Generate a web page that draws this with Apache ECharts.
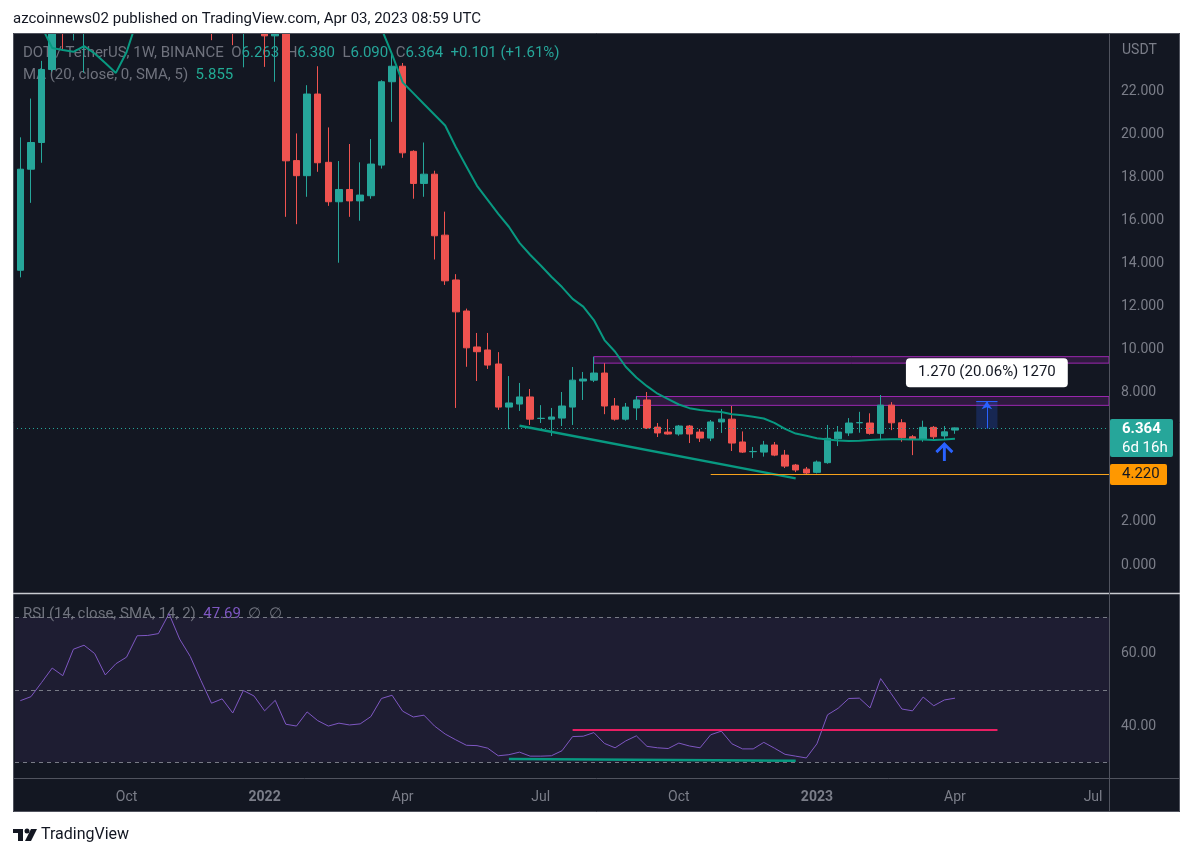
<!DOCTYPE html>
<html><head><meta charset="utf-8">
<script src="https://cdn.jsdelivr.net/npm/echarts@6/dist/echarts.min.js"></script>
<style>html,body{margin:0;padding:0;background:#fff;}#c{width:1192px;height:857px;}</style>
</head><body><div id="c"></div>
<script>
const FONT = 'Roboto, "Liberation Sans", sans-serif';

// weekly bars (Monday dates), starting 2021-07-26, including empty future weeks
const firstWeek = '2021-07-26';
const weekCount = 103;
const categories = [];
(function () {
  const t0 = Date.parse(firstWeek + 'T00:00:00Z');
  for (let i = 0; i < weekCount; i++) categories.push(new Date(t0 + i * 7 * 864e5).toISOString().slice(0, 10));
})();

const tickDates  = ['2021-10-04','2022-01-03','2022-04-04','2022-07-04','2022-10-03','2023-01-02','2023-04-03','2023-07-03'];
const tickLabels = ['Oct','2022','Apr','Jul','Oct','2023','Apr','Jul'];

const opens = [13.68,18.37,19.61,23.0,28.5,25.6,32.5,35.0,34.0,29.5,31.5,33.7,42.5,42.5,43.5,50.0,45.5,37.0,36.5,28.7,
  27.8,25.2,29.5,26.5,24.56,26.5,18.77,18.07,21.86,18.69,16.86,17.43,16.9,17.14,18.56,22.43,23.15,19.2,17.71,18.14,
  15.31,13.23,11.79,10.12,9.98,9.33,7.33,7.47,7.8,6.8,6.77,6.82,7.33,8.54,8.58,8.91,7.38,6.77,7.29,7.66,
  6.4,6.17,6.08,6.45,6.17,5.89,6.64,6.77,5.71,5.26,5.24,5.57,5.1,4.64,4.45,4.3,4.75,5.86,6.13,6.6,
  6.59,6.11,7.42,6.6,5.95,5.83,6.39,5.99,6.263];
const highs = [19.85,21.65,23.4,29.5,30.5,36.0,38.8,38.0,35.5,33.0,36.0,43.5,46.5,45.0,55.0,54.0,46.5,43.0,38.8,30.5,
  29.0,31.0,31.0,28.0,27.8,27.5,20.03,22.27,23.15,20.31,18.75,19.54,18.69,19.77,22.5,23.8,23.3,19.25,19.61,18.3,
  16.4,13.5,11.9,10.77,10.77,9.88,8.77,8.45,8.17,7.42,7.29,8.03,9.19,8.96,9.67,9.37,7.75,7.52,7.84,8.03,
  6.59,6.77,6.5,6.5,6.31,6.73,7.24,7.38,6.2,5.48,5.76,5.71,5.34,4.69,4.55,4.85,6.5,6.45,6.82,7.11,
  7.04,7.89,7.56,6.77,6.03,6.7,6.45,6.45,6.38];
const lows = [13.35,16.81,18.67,22.9,23.9,24.35,22.85,31.5,26.5,27.5,30.5,33.0,40.0,37.5,42.0,44.5,35.6,34.0,24.36,25.3,
  24.13,23.1,25.0,23.12,22.43,16.16,15.82,17.09,18.25,16.67,14.03,16.16,15.98,17.0,18.4,20.57,18.9,17.0,17.09,14.18,
  13.0,7.29,9.2,8.54,9.1,7.2,6.3,7.15,6.5,6.59,5.99,6.45,6.5,7.66,8.49,7.0,6.7,6.7,6.73,6.31,
  5.94,6.05,6.0,5.66,5.71,5.75,6.13,5.29,5.2,4.97,5.03,5.05,4.5,4.31,4.22,4.25,4.7,5.52,5.99,6.14,
  6.05,5.8,6.26,5.72,5.1,5.72,5.85,5.8,6.09];
const closes = [18.37,19.61,23.0,28.5,25.6,32.5,35.0,34.0,29.5,31.5,33.7,42.5,42.5,43.5,50.0,45.5,37.0,36.5,28.7,27.8,
  25.2,29.5,26.5,24.56,26.5,18.76,18.07,21.86,18.67,16.86,17.43,16.9,17.17,18.61,22.43,23.15,19.13,17.71,18.14,15.28,
  13.19,11.75,10.08,9.9,9.28,7.33,7.52,7.8,6.77,6.81,6.87,7.38,8.58,8.63,8.91,7.38,6.77,7.33,7.66,6.36,
  6.13,6.08,6.45,6.08,5.89,6.64,6.77,5.66,5.24,5.27,5.57,5.1,4.59,4.41,4.27,4.78,5.88,6.17,6.59,6.61,
  6.11,7.42,6.6,5.91,5.83,6.39,5.95,6.18,6.364];

const maValues = [26.5,25.8,25.0,24.0,23.9,23.82,24.08,23.74,23.3,22.84,23.8,25.3,26.8,28.3,30.0,31.5,32.5,33.5,34.0,34.3,
  34.5,34.6,34.5,34.2,33.8,33.0,32.0,31.0,29.8,28.6,27.5,26.6,25.9,25.4,24.9,23.7,22.4,21.9,21.4,20.9,
  20.4,19.4,18.5,17.6,16.95,16.3,15.7,14.95,14.4,13.9,13.38,12.9,12.35,11.99,11.37,10.44,9.9,9.2,8.7,8.3,
  7.95,7.7,7.45,7.28,7.19,7.14,7.1,7.0,6.95,6.88,6.8,6.6,6.32,6.1,6.0,5.88,5.82,5.78,5.76,5.77,
  5.8,5.83,5.84,5.84,5.83,5.82,5.8,5.82,5.855];

const rsiValues = [47.0,48.1,52.0,56.0,53.9,61.2,62.3,60.0,54.1,57.2,59.0,64.9,65.0,65.5,71.0,64.0,59.2,52.6,46.3,47.5,
  43.6,49.8,48.3,44.2,47.1,40.5,40.0,43.9,41.5,40.0,40.8,40.3,40.6,42.6,47.6,48.5,44.1,42.5,43.0,40.0,
  37.8,36.2,34.7,34.6,33.9,31.8,32.1,32.8,31.7,31.7,31.8,33.2,37.1,37.2,38.2,35.2,34.0,35.9,37.3,34.4,
  34.0,33.8,35.3,34.5,34.0,37.6,38.6,35.1,33.7,33.7,35.5,33.9,32.2,31.7,31.2,35.1,43.1,44.9,47.6,47.7,
  45.0,53.1,48.9,44.7,44.2,48.0,45.6,47.2,47.69];

const priceTicks = [0,2,4,6,8,10,12,14,16,18,20,22];
const rsiTicks = [40,60];
const rsiLevels = [70,50,30];

const lastPrice = 6.364;
const supportLevel = 4.22;
const upperZone = {fromWeek: 54, top: 9.67, bottom: 9.37};
const lowerZone = {fromWeek: 58, top: 7.82, bottom: 7.41};
const trendline = [[47, 6.46], [73, 4.02]];
const supportFromWeek = 65;
const measure = {fromWeek: 90, midWeek: 91, toWeek: 92, low: 6.331, high: 7.601, text: '1.270 (20.06%) 1270'};
const arrowPoint = [87, 5.22];
const rsiResistance = [[52, 38.9], [92, 38.9]];
const rsiSupport = [[46, 30.9], [73, 30.4]];

const tickMap = {};
tickDates.forEach((d, i) => { tickMap[d] = tickLabels[i]; });
const candleData = opens.map((o, i) => [o, closes[i], lows[i], highs[i]]);

const AX = '#7b7e89';
const chart = echarts.init(document.getElementById('c'), null, {renderer: 'canvas'});
const option = {
  backgroundColor: '#131722',
  animation: false,
  textStyle: {fontFamily: FONT},
  grid: [
    {left: 15, right: 83, top: 34, height: 558},
    {left: 15, right: 83, top: 594, height: 184}
  ],
  xAxis: [
    {type: 'category', gridIndex: 0, data: categories, boundaryGap: true,
     axisLine: {show: false}, axisTick: {show: false}, axisLabel: {show: false}, splitLine: {show: false}},
    {type: 'category', gridIndex: 1, data: categories, boundaryGap: true,
     axisLine: {show: false}, axisTick: {show: false}, splitLine: {show: false},
     axisLabel: {show: true, margin: 12,
       interval: function (i, v) { return tickMap[v] !== undefined; },
       formatter: function (v) { const l = tickMap[v] || ''; return /^\d{4}$/.test(l) ? '{y|' + l + '}' : '{m|' + l + '}'; },
       rich: {y: {fontWeight: 'bold', color: AX, fontSize: 14, fontFamily: FONT}, m: {color: AX, fontSize: 14, fontFamily: FONT}}}}
  ],
  yAxis: [
    {type: 'value', gridIndex: 0, position: 'right', min: -1.253, max: 24.646,
     axisLine: {show: false}, axisTick: {show: false}, splitLine: {show: false},
     axisLabel: {customValues: priceTicks, formatter: v => v.toFixed(3), color: AX, fontSize: 14, margin: 12, fontFamily: FONT}},
    {type: 'value', gridIndex: 1, position: 'right', min: 25.67, max: 76.43,
     axisLine: {show: false}, axisTick: {show: false}, splitLine: {show: false},
     axisLabel: {customValues: rsiTicks, formatter: v => v.toFixed(2), color: AX, fontSize: 14, margin: 12, fontFamily: FONT}}
  ],
  series: [
    {
      type: 'candlestick', xAxisIndex: 0, yAxisIndex: 0, data: candleData, barWidth: 7, z: 2,
      itemStyle: {color: '#26a69a', color0: '#ef5350', borderColor: '#26a69a', borderColor0: '#ef5350', borderWidth: 1},
      markArea: {
        silent: true,
        data: [
          [{xAxis: upperZone.fromWeek, yAxis: upperZone.top, itemStyle: {color: 'rgba(156,39,176,0.2)', borderColor: '#9c27b0', borderWidth: 1}},
           {x: 1109, yAxis: upperZone.bottom}],
          [{xAxis: lowerZone.fromWeek, yAxis: lowerZone.top, itemStyle: {color: 'rgba(156,39,176,0.2)', borderColor: '#9c27b0', borderWidth: 1}},
           {x: 1109, yAxis: lowerZone.bottom}],
          [{xAxis: measure.fromWeek, yAxis: measure.high, itemStyle: {color: 'rgba(41,98,255,0.22)', borderWidth: 0},
            label: {show: true, position: 'top', distance: 14, formatter: measure.text, backgroundColor: '#ffffff',
                    color: '#131722', padding: [7, 12, 7, 12], borderRadius: 4, fontSize: 15, fontFamily: FONT}},
           {xAxis: measure.toWeek, yAxis: measure.low}]
        ]
      },
      markLine: {
        silent: true, symbol: ['none', 'none'], label: {show: false},
        data: [
          [{yAxis: lastPrice, x: 13, lineStyle: {color: '#26a69a', type: [1, 3], width: 1}}, {yAxis: lastPrice, x: 1109}],
          [{xAxis: trendline[0][0], yAxis: trendline[0][1], lineStyle: {color: '#089981', width: 2.5, type: 'solid'}},
           {xAxis: trendline[1][0], yAxis: trendline[1][1]}],
          [{xAxis: supportFromWeek, yAxis: supportLevel, lineStyle: {color: '#f7a21b', width: 1, type: 'solid'}},
           {x: 1109, yAxis: supportLevel}],
          [{xAxis: measure.fromWeek, yAxis: measure.high, lineStyle: {color: '#2962ff', width: 1, type: 'solid'}},
           {xAxis: measure.toWeek, yAxis: measure.high}],
          [{xAxis: measure.midWeek, yAxis: measure.low, lineStyle: {color: '#2962ff', width: 1, type: 'solid'}},
           {xAxis: measure.midWeek, yAxis: measure.high, symbol: 'arrow', symbolSize: 8}]
        ]
      },
      markPoint: {
        silent: true, label: {show: false},
        data: [{xAxis: arrowPoint[0], yAxis: arrowPoint[1], symbol: 'path://M0,9 L8,0 L16,9 M8,0 L8,19', symbolSize: [16, 17],
                itemStyle: {color: 'rgba(0,0,0,0)', borderColor: '#2962ff', borderWidth: 3}}]
      }
    },
    {
      type: 'line', xAxisIndex: 0, yAxisIndex: 0, data: maValues, symbol: 'none', z: 3,
      lineStyle: {color: '#089981', width: 2}, silent: true
    },
    {
      type: 'line', xAxisIndex: 1, yAxisIndex: 1, data: rsiValues, symbol: 'none', z: 3,
      lineStyle: {color: '#7e57c2', width: 1}, silent: true,
      markArea: {silent: true, data: [[{yAxis: rsiLevels[0], itemStyle: {color: 'rgba(126,87,194,0.1)'}}, {yAxis: rsiLevels[2]}]]},
      markLine: {
        silent: true, symbol: ['none', 'none'], label: {show: false},
        data: [
          {yAxis: rsiLevels[0], lineStyle: {color: '#787b86', type: [4, 4], width: 1}},
          {yAxis: rsiLevels[1], lineStyle: {color: '#787b86', type: [4, 4], width: 1}},
          {yAxis: rsiLevels[2], lineStyle: {color: '#787b86', type: [4, 4], width: 1}},
          [{xAxis: rsiResistance[0][0], yAxis: rsiResistance[0][1], lineStyle: {color: '#e91e63', width: 2, type: 'solid'}},
           {xAxis: rsiResistance[1][0], yAxis: rsiResistance[1][1]}],
          [{xAxis: rsiSupport[0][0], yAxis: rsiSupport[0][1], lineStyle: {color: '#089981', width: 2.5, type: 'solid'}},
           {xAxis: rsiSupport[1][0], yAxis: rsiSupport[1][1]}]
        ]
      }
    }
  ]
};
chart.setOption(option);

const yLast = chart.convertToPixel({yAxisIndex: 0}, lastPrice);
const ySup = chart.convertToPixel({yAxisIndex: 0}, supportLevel);
const G = '#6f727d';
const graphics = [
  // white page margins
  {type: 'rect', z: 100, shape: {x: 0, y: 0, width: 1192, height: 33}, style: {fill: '#ffffff'}},
  {type: 'rect', z: 100, shape: {x: 0, y: 0, width: 13, height: 857}, style: {fill: '#ffffff'}},
  {type: 'rect', z: 100, shape: {x: 1180, y: 0, width: 12, height: 857}, style: {fill: '#ffffff'}},
  {type: 'rect', z: 100, shape: {x: 0, y: 812, width: 1192, height: 45}, style: {fill: '#ffffff'}},
  // frame
  {type: 'rect', z: 101, shape: {x: 13.5, y: 33.5, width: 1166, height: 778}, style: {fill: 'none', stroke: '#50535e', lineWidth: 1}},
  {type: 'line', z: 101, shape: {x1: 13, y1: 593.5, x2: 1180, y2: 593.5}, style: {stroke: '#c9cbd1', lineWidth: 1.5}},
  {type: 'line', z: 101, shape: {x1: 13, y1: 778.5, x2: 1180, y2: 778.5}, style: {stroke: '#50535e', lineWidth: 1}},
  {type: 'line', z: 101, shape: {x1: 1109.5, y1: 34, x2: 1109.5, y2: 812}, style: {stroke: '#50535e', lineWidth: 1}},
  // header
  {type: 'text', z: 102, x: 13, y: 19, style: {text: 'azcoinnews02 published on TradingView.com, Apr 03, 2023 08:59 UTC',
    fill: '#131722', font: '15px ' + FONT, verticalAlign: 'middle'}},
  // legends
  {type: 'text', z: 1, x: 23, y: 53, style: {verticalAlign: 'middle', font: '15px ' + FONT,
    text: '{g|DOT / TetherUS, 1W, BINANCE}  {g|O}{v|6.263}  {g|H}{v|6.380}  {g|L}{v|6.090}  {g|C}{v|6.364}  {v|+0.101 (+1.61%)}',
    rich: {g: {fill: G, fontSize: 15, fontFamily: FONT}, v: {fill: '#26a69a', fontSize: 15, fontFamily: FONT}}}},
  {type: 'text', z: 1, x: 23, y: 75, style: {verticalAlign: 'middle', font: '15px ' + FONT,
    text: '{g|MA (20, close, 0, SMA, 5)}  {v|5.855}',
    rich: {g: {fill: G, fontSize: 15, fontFamily: FONT}, v: {fill: '#22ab94', fontSize: 15, fontFamily: FONT}}}},
  {type: 'text', z: 1, x: 23, y: 614, style: {verticalAlign: 'middle', font: '15px ' + FONT,
    text: '{g|RSI (14, close, SMA, 14, 2)}  {p|47.69}  {g|∅  ∅}',
    rich: {g: {fill: G, fontSize: 15, fontFamily: FONT}, p: {fill: '#7e57c2', fontSize: 15, fontFamily: FONT}}}},
  {type: 'text', z: 102, x: 1122, y: 50, style: {text: 'USDT', fill: AX, font: '14px ' + FONT, verticalAlign: 'middle'}},
  // price axis boxes
  {type: 'rect', z: 102, shape: {x: 1110, y: yLast - 9, width: 63, height: 38, r: 2}, style: {fill: '#26a69a'}},
  {type: 'text', z: 103, x: 1122, y: yLast + 1, style: {text: lastPrice.toFixed(3), fill: '#ffffff', font: 'bold 15px ' + FONT, verticalAlign: 'middle'}},
  {type: 'text', z: 103, x: 1122, y: yLast + 20, style: {text: '6d 16h', fill: '#ffffff', font: '15px ' + FONT, verticalAlign: 'middle'}},
  {type: 'rect', z: 102, shape: {x: 1110, y: ySup - 10, width: 57, height: 21, r: 2}, style: {fill: '#ff9800'}},
  {type: 'text', z: 103, x: 1122, y: ySup + 0.5, style: {text: supportLevel.toFixed(3), fill: '#131722', font: '15px ' + FONT, verticalAlign: 'middle'}},
  // footer logo
  {type: 'rect', z: 102, shape: {x: 13, y: 829, width: 10, height: 4}, style: {fill: '#131722'}},
  {type: 'rect', z: 102, shape: {x: 18, y: 829, width: 5, height: 12}, style: {fill: '#131722'}},
  {type: 'circle', z: 102, shape: {cx: 27, cy: 831, r: 2.5}, style: {fill: '#131722'}},
  {type: 'polygon', z: 102, shape: {points: [[31, 829], [37, 829], [31, 841], [25, 841]]}, style: {fill: '#131722'}},
  {type: 'text', z: 102, x: 41, y: 835, style: {text: 'TradingView', fill: '#131722', font: '16px ' + FONT, verticalAlign: 'middle'}}
];
chart.setOption({graphic: graphics});
</script>
</body></html>
